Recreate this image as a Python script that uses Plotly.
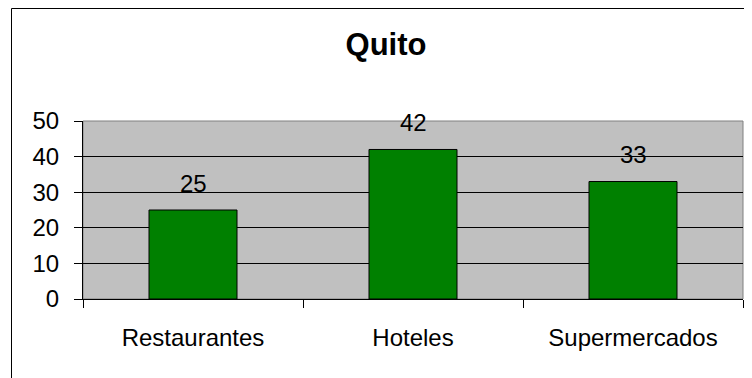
import plotly.graph_objects as go

# data
categories = ["Restaurantes", "Hoteles", "Supermercados"]
values = [25, 42, 33]
y_ticks = [0, 10, 20, 30, 40, 50]

GREEN = "#008000"
GRAY_BG = "#C0C0C0"
FONT = "Liberation Sans, Arial, sans-serif"

fig = go.Figure(go.Bar(
    x=categories,
    y=values,
    marker=dict(color=GREEN, line=dict(color="black", width=1)),
    width=0.4,
    hoverinfo="x+y",
))

# value labels floating above the bars
for c, v in zip(categories, values):
    fig.add_annotation(x=c, y=v, text=str(v), showarrow=False,
                       yanchor="middle", yshift=27,
                       font=dict(size=24, color="black", family=FONT))

# page body has an 8px margin, so the figure is drawn 8px smaller and shifted
OFF = 8
W, H = 752 - OFF, 378 - OFF
# plot area on the page: x 83..743, y 121..299
L, R, T, B = 83 - OFF, 9, 121 - OFF, 79
pw, ph = W - L - R, H - T - B

fig.add_shape(type="rect", xref="paper", yref="paper", x0=0, x1=1, y0=0, y1=1,
              line=dict(color="#808080", width=1), layer="below")
# outer chart border (only left and top visible in frame)
fig.add_shape(type="rect", xref="paper", yref="paper",
              x0=(11.5 - OFF - L) / pw, x1=(W + 10 - L) / pw,
              y0=(H - B - (H + 10)) / ph, y1=(H - B - 0.5) / ph,
              line=dict(color="black", width=1), layer="above")

fig.update_layout(
    width=W, height=H,
    margin=dict(l=L, r=R, t=T, b=B, autoexpand=False),
    paper_bgcolor="white",
    plot_bgcolor=GRAY_BG,
    font=dict(family=FONT, size=24, color="black"),
    title=dict(text="<b>Quito</b>", x=(386 - OFF) / W, xanchor="center",
               y=1 - (44 - OFF) / H, yanchor="middle", xref="container", yref="container",
               font=dict(size=31, color="black", family=FONT)),
    showlegend=False,
    bargap=0.6,
    xaxis=dict(showline=True, linecolor="black", linewidth=1,
               ticks="outside", ticklen=8, tickcolor="black", tickson="boundaries",
               showgrid=False, ticklabelstandoff=17, fixedrange=True),
    yaxis=dict(range=[0, 50], tickvals=y_ticks, showline=True, linecolor="black",
               linewidth=1, ticks="outside", ticklen=8, tickcolor="black",
               showgrid=True, gridcolor="black", gridwidth=1, zeroline=False,
               ticklabelstandoff=10, fixedrange=True),
)

fig.write_html("out.html")
